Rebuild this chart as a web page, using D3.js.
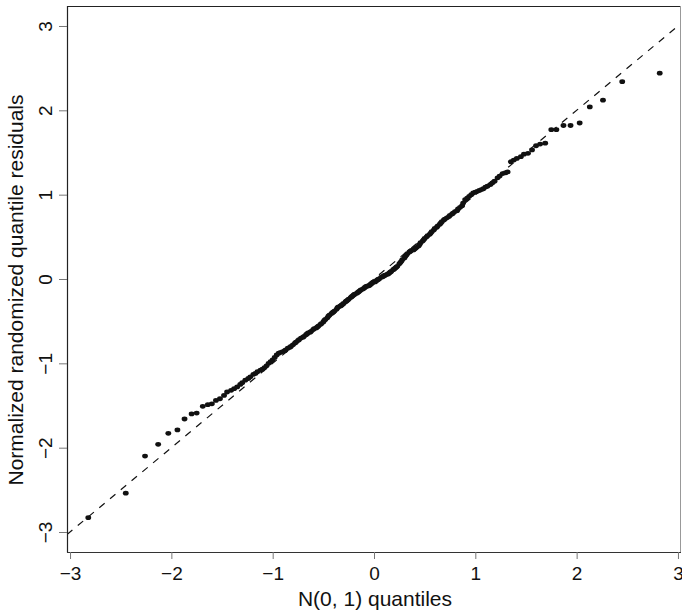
<!DOCTYPE html>
<html><head><meta charset="utf-8">
<script src="https://cdn.jsdelivr.net/npm/d3@7"></script>
<style>body{margin:0;background:#fff}svg{display:block}text{font-family:"Liberation Sans",Arial,Helvetica,sans-serif;fill:#111}</style>
</head><body><svg id="c" width="682" height="612"></svg>
<script>
// Theoretical N(0,1) quantiles (x) and sorted residuals (y)
const quantiles = [
-2.82,-2.45,-2.26,-2.13,-2.03,-1.94,-1.87,-1.80,-1.75,-1.69,
-1.64,-1.60,-1.56,-1.52,-1.48,-1.45,-1.41,-1.38,-1.35,-1.32,
-1.30,-1.27,-1.24,-1.22,-1.19,-1.17,-1.15,-1.12,-1.10,-1.08,
-1.06,-1.04,-1.02,-1.00,-0.98,-0.96,-0.94,-0.92,-0.90,-0.88,
-0.87,-0.85,-0.83,-0.82,-0.80,-0.78,-0.77,-0.75,-0.74,-0.72,
-0.70,-0.69,-0.67,-0.66,-0.65,-0.63,-0.62,-0.60,-0.59,-0.57,
-0.56,-0.55,-0.53,-0.52,-0.50,-0.49,-0.48,-0.46,-0.45,-0.44,
-0.42,-0.41,-0.40,-0.39,-0.37,-0.36,-0.35,-0.33,-0.32,-0.31,
-0.30,-0.28,-0.27,-0.26,-0.25,-0.23,-0.22,-0.21,-0.20,-0.19,
-0.17,-0.16,-0.15,-0.14,-0.13,-0.11,-0.10,-0.09,-0.08,-0.07,
-0.05,-0.04,-0.03,-0.02,-0.01,
0.01,0.02,0.03,0.04,0.05,0.07,0.08,0.09,0.10,0.11,
0.13,0.14,0.15,0.16,0.17,0.19,0.20,0.21,0.22,0.23,
0.25,0.26,0.27,0.28,0.30,0.31,0.32,0.33,0.35,0.36,
0.37,0.39,0.40,0.41,0.42,0.44,0.45,0.46,0.48,0.49,
0.50,0.52,0.53,0.55,0.56,0.57,0.59,0.60,0.62,0.63,
0.65,0.66,0.67,0.69,0.70,0.72,0.74,0.75,0.77,0.78,
0.80,0.82,0.83,0.85,0.87,0.88,0.90,0.92,0.94,0.96,
0.98,1.00,1.02,1.04,1.06,1.08,1.10,1.12,1.15,1.17,
1.19,1.22,1.24,1.27,1.30,1.32,1.35,1.38,1.41,1.45,
1.48,1.52,1.56,1.60,1.64,1.69,1.75,1.80,1.87,1.94,
2.03,2.13,2.26,2.45,2.82
];
const residuals = [
-2.83,-2.54,-2.10,-1.96,-1.83,-1.79,-1.66,-1.60,-1.59,-1.51,
-1.49,-1.48,-1.44,-1.42,-1.38,-1.34,-1.32,-1.30,-1.28,-1.25,
-1.23,-1.20,-1.18,-1.16,-1.13,-1.12,-1.10,-1.08,-1.07,-1.05,
-1.03,-1.00,-0.98,-0.96,-0.93,-0.90,-0.88,-0.87,-0.86,-0.85,
-0.84,-0.82,-0.81,-0.80,-0.78,-0.76,-0.75,-0.73,-0.72,-0.70,
-0.69,-0.68,-0.66,-0.65,-0.64,-0.63,-0.62,-0.60,-0.59,-0.58,
-0.57,-0.56,-0.54,-0.53,-0.51,-0.49,-0.48,-0.46,-0.44,-0.43,
-0.41,-0.40,-0.39,-0.38,-0.36,-0.34,-0.33,-0.32,-0.31,-0.30,
-0.29,-0.27,-0.26,-0.25,-0.24,-0.22,-0.21,-0.20,-0.19,-0.18,
-0.17,-0.16,-0.15,-0.14,-0.13,-0.12,-0.11,-0.10,-0.09,-0.085,
-0.08,-0.07,-0.06,-0.05,-0.04,
-0.035,-0.025,-0.015,-0.005,0.00,0.02,0.025,0.03,0.04,0.045,
0.055,0.06,0.07,0.08,0.09,0.11,0.12,0.13,0.14,0.15,
0.18,0.195,0.21,0.23,0.25,0.27,0.285,0.30,0.32,0.33,
0.34,0.345,0.355,0.365,0.375,0.39,0.41,0.43,0.45,0.465,
0.48,0.50,0.515,0.53,0.545,0.56,0.58,0.60,0.615,0.63,
0.65,0.665,0.68,0.70,0.71,0.725,0.74,0.755,0.77,0.78,
0.80,0.81,0.83,0.85,0.87,0.90,0.94,0.96,0.98,1.00,
1.02,1.03,1.04,1.05,1.06,1.07,1.09,1.10,1.12,1.14,
1.16,1.20,1.22,1.25,1.26,1.27,1.39,1.41,1.43,1.45,
1.48,1.49,1.53,1.58,1.60,1.61,1.77,1.77,1.82,1.82,
1.85,2.04,2.12,2.34,2.44
];
const xTicks = [-3,-2,-1,0,1,2,3];
const yTicks = [-3,-2,-1,0,1,2,3];
const refLine = [-3.03, 3.03];   // y = x reference line
const xLabel = "N(0, 1) quantiles";
const yLabel = "Normalized randomized quantile residuals";

const svg = d3.select("#c");
const x = d3.scaleLinear().domain([-3.03, 3.03]).range([67, 681]);
const y = d3.scaleLinear().domain([-3.237, 3.237]).range([552, 6]);
const fmt = d3.format("d");

svg.append("defs").append("clipPath").attr("id","clip")
  .append("rect").attr("x",67).attr("y",6).attr("width",614).attr("height",546);

// reference dashed line
svg.append("line").attr("clip-path","url(#clip)")
  .attr("x1",x(refLine[0])).attr("y1",y(refLine[0]))
  .attr("x2",x(refLine[1])).attr("y2",y(refLine[1]))
  .attr("stroke","#111").attr("stroke-width",1.2).attr("stroke-dasharray","7,7");

// points
svg.append("g").selectAll("ellipse").data(quantiles.map((q,i)=>[q,residuals[i]]))
  .join("ellipse")
  .attr("cx",d=>x(d[0])).attr("cy",d=>y(d[1]))
  .attr("rx",2.9).attr("ry",2.4).attr("fill","#111");

// box
svg.append("path")
  .attr("d",`M67.5,552.5V6.5H680.5`).attr("fill","none").attr("stroke","#222").attr("stroke-width",1.2);
svg.append("line").attr("x1",67).attr("x2",681).attr("y1",552.5).attr("y2",552.5)
  .attr("stroke","#333").attr("stroke-width",1.2);
svg.append("line").attr("x1",680.5).attr("x2",680.5).attr("y1",6).attr("y2",552)
  .attr("stroke","#999").attr("stroke-width",1);

// x axis
const gx = svg.append("g").attr("transform","translate(0,552)")
  .call(d3.axisBottom(x).tickValues(xTicks).tickSize(7).tickSizeOuter(0).tickPadding(8).tickFormat(fmt));
gx.select(".domain").remove();
gx.selectAll(".tick line").attr("stroke","#777");
gx.selectAll(".tick text").attr("font-size",19).attr("font-family",null).attr("fill","#111");

// y axis
const gy = svg.append("g").attr("transform","translate(67,0)")
  .call(d3.axisLeft(y).tickValues(yTicks).tickSize(8).tickSizeOuter(0).tickFormat(fmt));
gy.select(".domain").remove();
gy.selectAll(".tick line").attr("stroke","#777");
gy.selectAll(".tick text")
  .attr("font-size",19).attr("font-family",null).attr("fill","#111")
  .attr("x",null).attr("dy",null)
  .attr("text-anchor","middle")
  .attr("transform","translate(-15.5,0) rotate(-90)");

// titles
svg.append("text").attr("x",375).attr("y",606).attr("text-anchor","middle")
  .attr("font-size",21).text(xLabel);
svg.append("text").attr("transform","translate(22.5,290) rotate(-90)")
  .attr("text-anchor","middle").attr("font-size",21).text(yLabel);
</script></body></html>
